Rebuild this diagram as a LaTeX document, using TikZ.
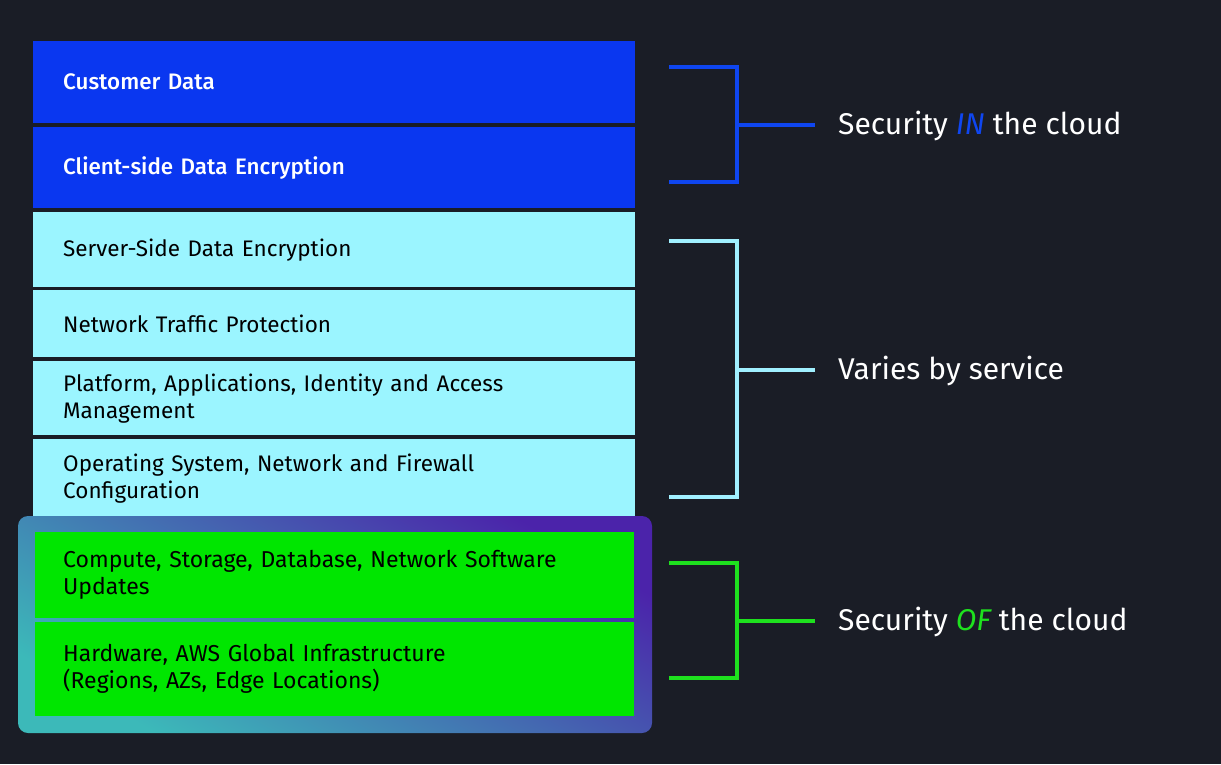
\documentclass[tikz,border=0pt]{standalone}
\usepackage{fontspec}
\setmainfont{Fira Sans}[BoldFont={Fira Sans Medium}]
\definecolor{bg}{RGB}{26,29,38}
\definecolor{awsblue}{RGB}{10,55,240}
\definecolor{awscyan}{RGB}{155,245,255}
\definecolor{awsgreen}{RGB}{0,230,0}
\definecolor{brblue}{RGB}{15,70,240}
\definecolor{brcyan}{RGB}{160,240,255}
\definecolor{brgreen}{RGB}{30,225,30}
\definecolor{frteal}{RGB}{60,185,185}
\definecolor{frpurple}{RGB}{75,35,170}
\begin{document}
\begin{tikzpicture}[x=1pt,y=-1pt,
  layer/.style={anchor=north west, inner xsep=30pt, inner ysep=0pt, minimum width=602pt,
    text width=542pt, align=left, font=\fontsize{22.5}{27}\selectfont},
  bluebox/.style={layer, fill=awsblue, text=white, font=\fontsize{22.4}{27}\selectfont\bfseries},
  cyanbox/.style={layer, fill=awscyan, text=black},
  greenbox/.style={layer, fill=awsgreen, text=black, minimum width=599pt, text width=543pt, inner xsep=28pt,
    font=\fontsize{23}{27}\selectfont},
  bracket/.style={line width=4pt, line join=miter},
  biglabel/.style={anchor=west, inner sep=0pt, text=white, font=\fontsize{30}{36}\selectfont}
]
\fill[bg] (0,0) rectangle (1221,764);
\useasboundingbox (0,0) rectangle (1221,764);

% boxes
\node[bluebox, minimum height=82pt] (cd) at (33,41) {Customer Data};
\node[bluebox, minimum height=81pt] (ce) at (33,127) {Client-side Data Encryption};
\node[cyanbox, minimum height=75pt] (se) at (33,212) {Server-Side Data Encryption};
\node[cyanbox, minimum height=67pt] (nt) at (33,290) {Network Traffic Protection};
\node[cyanbox, minimum height=74pt] (pa) at (33,361) {Platform, Applications, Identity and Access\\Management};
\node[cyanbox, minimum height=78pt] (os) at (33,439) {Operating System, Network and Firewall\\Configuration};

% gradient frame
\shade[rounded corners=10pt, left color=frpurple, right color=frteal, shading angle=-30]
  (18,516) rectangle (652,733);
\node[greenbox, minimum height=86pt] (cs) at (35,532) {Compute, Storage, Database, Network Software\\Updates};
\node[greenbox, minimum height=94pt] (hw) at (35,622) {Hardware, AWS Global Infrastructure\\(Regions, AZs, Edge Locations)};

% labels
\node[biglabel] (l1) at (838,126) {Security \textcolor{brblue}{\itshape IN} the cloud};
\node[biglabel] (l2) at (838,371) {Varies by service};
\node[biglabel] (l3) at (838,622) {Security \textcolor{brgreen}{\itshape OF} the cloud};

% brackets
\coordinate (b1a) at (669,67);  \coordinate (b1m) at (737,125); \coordinate (b1b) at (669,182);
\coordinate (b2a) at (669,241); \coordinate (b2m) at (737,370); \coordinate (b2b) at (669,497);
\coordinate (b3a) at (669,563); \coordinate (b3m) at (737,621); \coordinate (b3b) at (669,678);
\draw[bracket, brblue] (b1a) -| (b1m) |- (b1b);
\draw[bracket, brblue] (b1m) -- ([xshift=-23pt]b1m -| l1.west);
\draw[bracket, brcyan] (b2a) -| (b2m) |- (b2b);
\draw[bracket, brcyan] (b2m) -- ([xshift=-23pt]b2m -| l2.west);
\draw[bracket, brgreen] (b3a) -| (b3m) |- (b3b);
\draw[bracket, brgreen] (b3m) -- ([xshift=-23pt]b3m -| l3.west);
\end{tikzpicture}
\end{document}
